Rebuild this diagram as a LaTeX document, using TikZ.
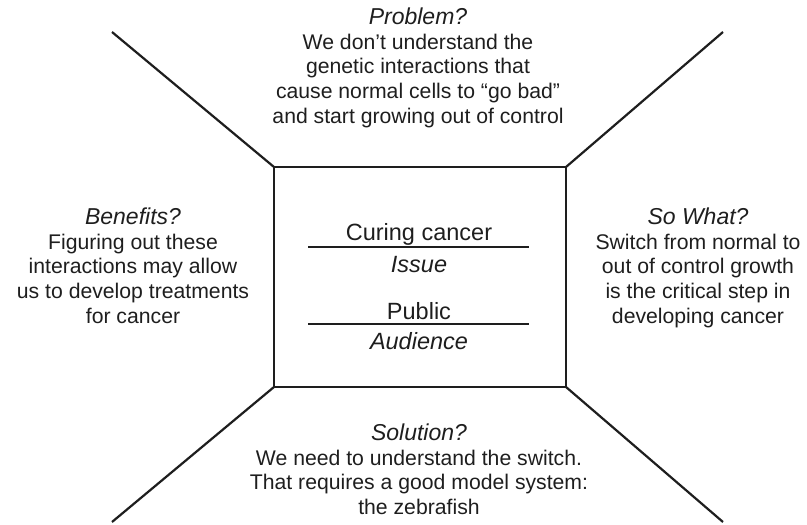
\documentclass[tikz,border=0pt]{standalone}
\usepackage{fontspec}
\setmainfont{Liberation Sans}
\definecolor{ink}{HTML}{1E1E1E}
\newcommand{\mybody}[1]{\parbox[t]{340pt}{\centering\fontsize{21.2}{24.8}\selectfont #1}}
\begin{document}
\begin{tikzpicture}[x=1pt,y=-1pt,
  frame/.style={draw=ink,line width=2.2pt},
  rule/.style={draw=ink,line width=1.5pt},
  ttl/.style={anchor=base,inner sep=0pt,text=ink,font=\fontsize{23}{26}\selectfont\itshape},
  txt/.style={anchor=base,inner sep=0pt,text=ink,font=\fontsize{21.2}{24.8}\selectfont},
  ctxt/.style={anchor=base,inner sep=0pt,text=ink,font=\fontsize{23.5}{27}\selectfont},
  cttl/.style={anchor=base,inner sep=0pt,text=ink,font=\fontsize{23.5}{27}\selectfont\itshape}]
\useasboundingbox (0,0) rectangle (807,525);
% box corners
\coordinate (tl) at (274,167);
\coordinate (tr) at (566,167);
\coordinate (bl) at (274,387);
\coordinate (br) at (566,387);
\coordinate (etl) at (112,32);
\coordinate (etr) at (723,32);
\coordinate (ebl) at (112,522);
\coordinate (ebr) at (723,522);
\draw[frame,line join=miter] (tl) -- (tr) -- (br) -- (bl) -- cycle;
\draw[frame] (etl) -- (tl);
\draw[frame] (etr) -- (tr);
\draw[frame] (ebl) -- (bl);
\draw[frame] (ebr) -- (br);
% center
\node[ctxt] (issuev) at (419,240) {Curing cancer};
\coordinate (r1a) at (308,247);
\coordinate (r1b) at (529,247);
\draw[rule] (r1a) -- (r1b);
\node[cttl] (issue) at (419,272) {Issue};
\node[ctxt] (audv) at (419,319) {Public};
\coordinate (r2a) at (308,324);
\coordinate (r2b) at (529,324);
\draw[rule] (r2a) -- (r2b);
\node[cttl] (aud) at (419,349) {Audience};
% top
\node[ttl] (probt) at (418,24.5) {Problem?};
\node[txt] (probb) at (418,49) {\mybody{We don’t understand the\\genetic interactions that\\cause normal cells to “go bad”\\and start growing out of control}};
% left
\node[ttl] (bent) at (133,224) {Benefits?};
\node[txt] (benb) at (133,249) {\mybody{Figuring out these\\interactions may allow\\us to develop treatments\\for cancer}};
% right
\node[ttl] (sot) at (698,224) {So What?};
\node[txt] (sob) at (698,249) {\mybody{Switch from normal to\\out of control growth\\is the critical step in\\developing cancer}};
% bottom
\node[ttl] (solt) at (419,440) {Solution?};
\node[txt] (solb) at (419,465) {\mybody{We need to understand the switch.\\That requires a good model system:\\the zebrafish}};
\end{tikzpicture}
\end{document}
